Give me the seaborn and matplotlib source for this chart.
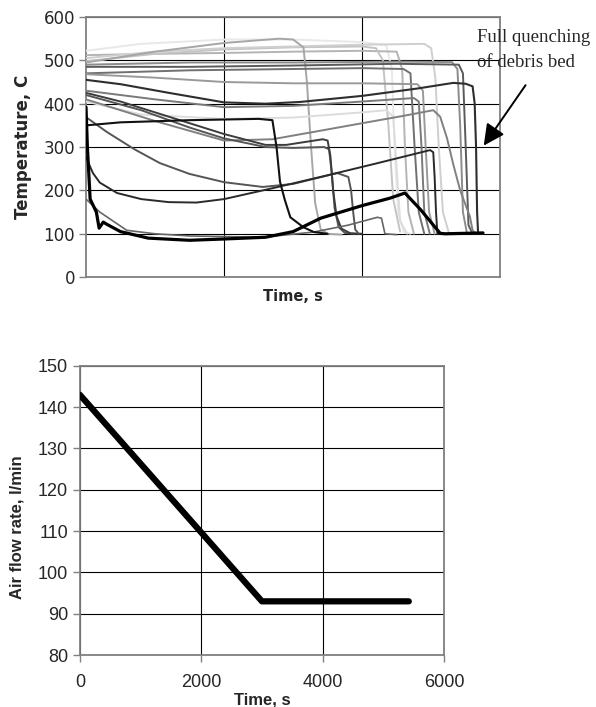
import matplotlib
matplotlib.use("Agg")
import matplotlib.pyplot as plt
import seaborn as sns
import pandas as pd

sns.set_theme(style="white")
plt.rcParams['font.family'] = ['Liberation Sans', 'DejaVu Sans']

# ---------------- top chart: temperature histories (t [s], T [C]) ----------------
c01_t = [0, 800, 2000, 3000, 4000, 4350, 4430, 4470, 4520, 4600, 4700]
c01_T = [522, 538, 548, 548, 542, 535, 480, 300, 150, 105, 100]
c02_t = [0, 1000, 2000, 2800, 3000, 3150, 3200, 3260, 3320, 3400, 3500, 3700]
c02_T = [495, 520, 540, 550, 548, 530, 450, 300, 170, 110, 100, 98]
c03_t = [0, 1000, 2000, 3000, 4000, 4900, 5000, 5060, 5110, 5170, 5260]
c03_T = [505, 520, 528, 532, 536, 538, 528, 460, 300, 150, 100]
c04_t = [0, 1000, 2000, 3000, 4000, 4200, 4300, 4380, 4450, 4550]
c04_T = [498, 515, 525, 530, 532, 528, 500, 350, 180, 105]
c05_t = [0, 1500, 3000, 4500, 5300, 5380, 5420, 5460, 5520]
c05_T = [490, 495, 495, 497, 496, 480, 350, 150, 100]
c06_t = [0, 1500, 3000, 4500, 5400, 5460, 5500, 5540, 5600]
c06_T = [485, 485, 488, 492, 490, 470, 300, 120, 100]
c07_t = [0, 1500, 3000, 4000, 4600, 4700, 4760, 4820, 4900]
c07_T = [470, 477, 480, 482, 480, 470, 300, 150, 100]
c08_t = [0, 1000, 2000, 3000, 4000, 4800, 4880, 4920, 4970, 5050]
c08_T = [468, 460, 450, 447, 447, 445, 430, 300, 150, 100]
c09_t = [0, 1000, 2000, 3000, 4000, 4500, 4580, 4620, 4670, 4750]
c09_T = [512, 515, 517, 520, 522, 520, 480, 300, 150, 100]
cH_t = [0, 500, 1200, 2000, 2600, 3100, 4000, 4800, 5320, 5500, 5600, 5630, 5650, 5665, 5680, 5750]
cH_T = [455, 445, 425, 403, 400, 404, 418, 435, 448, 446, 440, 400, 300, 150, 100, 100]
cI_t = [0, 1000, 2000, 3000, 4000, 4750, 4820, 4860, 4900, 4980]
cI_T = [430, 410, 392, 395, 405, 413, 405, 300, 150, 100]
cJ_t = [0, 800, 2000, 3000, 4000, 4350, 4450, 4500, 4550, 4650]
cJ_T = [405, 375, 365, 368, 380, 385, 370, 250, 130, 100]
cK_t = [0, 1000, 2000, 2700, 3300, 4000, 4600, 5030, 5130, 5230, 5320, 5420, 5560, 5600, 5650]
cK_T = [410, 360, 315, 318, 335, 355, 372, 385, 370, 320, 260, 200, 140, 108, 100]
cG_t = [0, 500, 1000, 1500, 2000, 2600, 2900, 3430, 3500, 3540, 3580, 3630, 3700, 3830, 4000]
cG_T = [425, 405, 380, 355, 330, 305, 305, 318, 315, 280, 200, 140, 112, 101, 100]
cG2_t = [0, 800, 1500, 2000, 2600, 3000, 3450, 3520, 3560, 3600, 3660, 3750, 3900]
cG2_T = [420, 385, 345, 320, 300, 298, 300, 295, 240, 160, 115, 102, 100]
cA_t = [0, 500, 1500, 2500, 2700, 2760, 2810, 2880, 2960, 3150, 3300, 3500]
cA_T = [350, 357, 362, 365, 362, 300, 220, 178, 138, 115, 104, 100]
cD_t = [0, 300, 700, 1070, 1500, 2000, 2560, 3000, 3640, 3800, 3840, 3870, 3900, 3950]
cD_T = [369, 335, 295, 263, 238, 219, 208, 215, 240, 231, 200, 150, 110, 100]
cE_t = [0, 100, 200, 450, 800, 1200, 1600, 2000, 2700, 3500, 4200, 4985, 5030, 5050, 5070, 5090, 5150]
cE_T = [277, 240, 218, 194, 180, 173, 172, 180, 205, 235, 262, 293, 288, 230, 150, 100, 100]
cF_t = [0, 200, 590, 1000, 1500, 2560, 3300, 3800, 4220, 4280, 4330, 4500]
cF_T = [180, 150, 108, 100, 95, 92, 104, 120, 138, 136, 100, 98]
cB_t = [0, 20, 60, 150, 190, 250, 300, 500, 900, 1500, 2000, 2600, 3000, 3400, 4000, 4400,
        4620, 4850, 5130, 5200, 5750]
cB_T = [392, 300, 180, 150, 113, 127, 122, 105, 90, 85, 88, 92, 105, 136, 165, 182,
        194, 155, 101, 100, 102]

curves = [
    (c01_t, c01_T, "#e8e8e8", 1.4),
    (c09_t, c09_T, "#b4b4b4", 1.4),
    (c04_t, c04_T, "#c4c4c4", 1.4),
    (c03_t, c03_T, "#cfcfcf", 1.4),
    (c02_t, c02_T, "#a6a6a6", 1.4),
    (c05_t, c05_T, "#8c8c8c", 1.4),
    (c06_t, c06_T, "#5a5a5a", 1.4),
    (c07_t, c07_T, "#707070", 1.4),
    (c08_t, c08_T, "#9a9a9a", 1.4),
    (cJ_t, cJ_T, "#dcdcdc", 1.4),
    (cI_t, cI_T, "#7a7a7a", 1.4),
    (cK_t, cK_T, "#808080", 1.4),
    (cG2_t, cG2_T, "#555555", 1.4),
    (cG_t, cG_T, "#3c3c3c", 1.4),
    (cD_t, cD_T, "#555555", 1.4),
    (cF_t, cF_T, "#666666", 1.2),
    (cE_t, cE_T, "#2a2a2a", 1.4),
    (cH_t, cH_T, "#2e2e2e", 1.5),
    (cA_t, cA_T, "#111111", 1.5),
    (cB_t, cB_T, "#000000", 2.3),
]

# ---------------- bottom chart: air flow rate ----------------
flow_t = [0, 3000, 5420]
flow_q = [143, 93, 93]

temp_yticks = [0, 100, 200, 300, 400, 500, 600]
flow_xticks = [0, 2000, 4000, 6000]
flow_yticks = [80, 90, 100, 110, 120, 130, 140, 150]

fig = plt.figure(figsize=(5.96, 7.07), dpi=100)
ax1 = fig.add_axes([0.1443, 0.608, 0.695, 0.368])
ax2 = fig.add_axes([0.134, 0.0735, 0.611, 0.409])

for t, T, col, lw in curves:
    sns.lineplot(x=t, y=T, ax=ax1, color=col, linewidth=lw, sort=False,
                 estimator=None, zorder=3)

wide = ['DejaVu Sans']
ax1.set_xlim(0, 6000)
ax1.set_ylim(0, 600)
ax1.set_yticks(temp_yticks)
ax1.set_yticklabels([str(v) for v in temp_yticks], family=wide, fontsize=12)
ax1.set_xticks([2000, 4000])
ax1.set_xticklabels([])
ax1.tick_params(axis='x', length=0)
ax1.tick_params(axis='y', length=5, width=1, color="#808080", direction='out',
                pad=3, left=True)
ax1.grid(True, color="black", linewidth=0.8, zorder=0)
ax1.set_axisbelow(True)
for s in ax1.spines.values():
    s.set_color("#808080")
    s.set_linewidth(1.3)
ax1.set_ylabel("Temperature, C", fontsize=12, fontweight='bold', family=wide, labelpad=8)
ax1.set_xlabel("Time, s", fontsize=10.5, fontweight='bold', family=wide, labelpad=5)

ax1.annotate("Full quenching\nof debris bed", xy=(5738, 298), xytext=(5665, 524),
             textcoords='data', ha='left', va='center', fontsize=13.5,
             family=['Liberation Serif', 'DejaVu Serif'], linespacing=1.6,
             annotation_clip=False)
ax1.annotate("", xy=(5738, 298), xytext=(6390, 448), textcoords='data',
             arrowprops=dict(arrowstyle='-|>', color='black', lw=1.4, mutation_scale=32),
             annotation_clip=False)

sns.lineplot(x=flow_t, y=flow_q, ax=ax2, color="black", linewidth=4.5,
             sort=False, estimator=None, solid_capstyle='round',
             solid_joinstyle='round', zorder=3)
ax2.set_xlim(0, 6000)
ax2.set_ylim(80, 150)
ax2.set_xticks(flow_xticks)
ax2.set_yticks(flow_yticks)
ax2.tick_params(axis='both', length=5, width=1, color="#808080", direction='out',
                labelsize=13, bottom=True, left=True)
ax2.tick_params(axis='x', pad=9)
ax2.grid(True, color="black", linewidth=0.8, zorder=0)
ax2.set_axisbelow(True)
for s in ax2.spines.values():
    s.set_color("#808080")
    s.set_linewidth(1.3)
ax2.set_ylabel("Air flow rate, l/min", fontsize=12, fontweight='bold')
ax2.yaxis.set_label_coords(-0.151, 0.443)
ax2.set_xlabel("Time, s", fontsize=12, fontweight='bold', labelpad=1)

fig.savefig("out.png", dpi=100)
